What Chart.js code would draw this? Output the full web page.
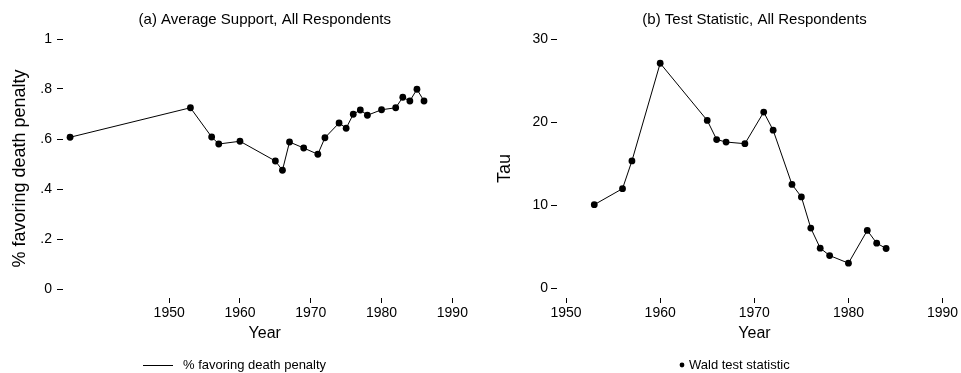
<!DOCTYPE html>
<html>
<head>
<meta charset="utf-8">
<title>Death penalty support</title>
<script src="https://cdn.jsdelivr.net/npm/chart.js@4.4.1/dist/chart.umd.min.js"></script>
<style>
  body { margin: 0; background: #fff; }
  #wrap { position: relative; width: 961px; height: 373px; }
  canvas { position: absolute; top: 0; }
</style>
</head>
<body>
<div id="wrap">
  <canvas id="supportChart" width="480" height="373" style="left:0;width:480px;height:373px"></canvas>
  <canvas id="waldChart" width="481" height="373" style="left:480px;width:481px;height:373px"></canvas>
</div>
<script>
// survey years and share favoring the death penalty
const supportYears = [1936, 1953, 1956, 1957, 1960, 1965, 1966, 1967, 1969, 1971, 1972,
  1974, 1975, 1976, 1977, 1978, 1980, 1982, 1983, 1984, 1985, 1986];
const supportShare = [0.607, 0.725, 0.608, 0.580, 0.591, 0.512, 0.475, 0.588, 0.564, 0.539, 0.605,
  0.664, 0.643, 0.699, 0.716, 0.695, 0.717, 0.725, 0.767, 0.752, 0.799, 0.752];

// Wald test statistic by year
const waldYears = [1953, 1956, 1957, 1960, 1965, 1966, 1967, 1969, 1971, 1972,
  1974, 1975, 1976, 1977, 1978, 1980, 1982, 1983, 1984];
const waldTau = [10.06, 11.99, 15.33, 27.08, 20.2, 17.9, 17.6, 17.4, 21.2, 19.03,
  12.5, 11.0, 7.24, 4.83, 3.94, 3.02, 6.96, 5.43, 4.79];

// axis ticks
const yearTicks = [1950, 1960, 1970, 1980, 1990];
const shareTicks = [0, 0.2, 0.4, 0.6, 0.8, 1];
const shareTickLabels = ["0", ".2", ".4", ".6", ".8", "1"];
const tauTicks = [0, 10, 20, 30];

const FONT = '"Liberation Sans", Arial, Helvetica, sans-serif';
Chart.defaults.font.family = FONT;
Chart.defaults.color = "#000";

// panel title on top, key line under the axis
const panelText = {
  id: "panelText",
  afterDraw(chart, args, opts) {
    const { ctx, chartArea } = chart;
    ctx.save();
    ctx.fillStyle = "#000";
    ctx.strokeStyle = "#000";
    ctx.textBaseline = "middle";
    ctx.font = "15px " + FONT;
    ctx.textAlign = "center";
    ctx.fillText(opts.title, (chartArea.left + chartArea.right) / 2, 20);

    const k = opts.key;
    let textX;
    if (k.kind === "line") {
      ctx.lineWidth = 1;
      ctx.beginPath();
      ctx.moveTo(k.x, k.y + 0.5);
      ctx.lineTo(k.x + 30, k.y + 0.5);
      ctx.stroke();
      textX = k.x + 40;
    } else {
      ctx.beginPath();
      ctx.arc(k.x, k.y, 2.4, 0, Math.PI * 2);
      ctx.fill();
      textX = k.x + 7;
    }
    ctx.font = "13px " + FONT;
    ctx.textAlign = "left";
    ctx.fillText(k.text, textX, k.y);
    ctx.restore();
  }
};

function yearAxis(min, max) {
  return {
    type: "linear",
    min: min,
    max: max,
    afterBuildTicks: s => { s.ticks = yearTicks.map(v => ({ value: v })); },
    afterFit: s => { s.height = 50; },
    border: { display: false },
    grid: { drawOnChartArea: false, tickLength: 5, color: "#000", lineWidth: 1 },
    ticks: { padding: 2, font: { size: 14 }, callback: v => String(v), maxRotation: 0 },
    title: { display: true, text: "Year", font: { size: 16 }, padding: { top: 0, bottom: 5 } }
  };
}

const lineStyle = {
  borderColor: "#000",
  backgroundColor: "#000",
  borderWidth: 1,
  pointRadius: 3.4,
  pointBorderWidth: 0,
  tension: 0
};

new Chart(document.getElementById("supportChart"), {
  type: "line",
  data: {
    datasets: [Object.assign({
      label: "% favoring death penalty",
      data: supportYears.map((y, i) => ({ x: y, y: supportShare[i] }))
    }, lineStyle)]
  },
  options: {
    responsive: false,
    animation: false,
    layout: { padding: { top: 39, right: 13.5, bottom: 25, left: 0 } },
    scales: {
      x: yearAxis(1935, 1992),
      y: {
        min: -0.036,
        max: 1,
        afterBuildTicks: s => { s.ticks = shareTicks.map(v => ({ value: v })); },
        afterFit: s => { s.width = 63; },
        border: { display: false },
        grid: { drawOnChartArea: false, tickLength: 6, color: "#000", lineWidth: 1 },
        ticks: { padding: 5, font: { size: 14 },
          callback: v => shareTickLabels[shareTicks.indexOf(v)] },
        title: { display: true, text: "% favoring death penalty", font: { size: 18 },
          padding: { top: 9, bottom: 0 } }
      }
    },
    plugins: {
      legend: { display: false },
      tooltip: { enabled: false },
      panelText: {
        title: "(a) Average Support, All Respondents",
        key: { kind: "line", x: 143, y: 365, text: "% favoring death penalty" }
      }
    }
  },
  plugins: [panelText]
});

new Chart(document.getElementById("waldChart"), {
  type: "line",
  data: {
    datasets: [Object.assign({
      label: "Wald test statistic",
      data: waldYears.map((y, i) => ({ x: y, y: waldTau[i] }))
    }, lineStyle)]
  },
  options: {
    responsive: false,
    animation: false,
    layout: { padding: { top: 39, right: 9, bottom: 25, left: 0 } },
    scales: {
      x: yearAxis(1949.04, 1991),
      y: {
        min: -1.17,
        max: 30,
        afterBuildTicks: s => { s.ticks = tauTicks.map(v => ({ value: v })); },
        afterFit: s => { s.width = 77; },
        border: { display: false },
        grid: { drawOnChartArea: false, tickLength: 6, color: "#000", lineWidth: 1 },
        ticks: { padding: 3, font: { size: 14 } },
        title: { display: true, text: "Tau", font: { size: 18 },
          padding: { top: 14, bottom: 0 } }
      }
    },
    plugins: {
      legend: { display: false },
      tooltip: { enabled: false },
      panelText: {
        title: "(b) Test Statistic, All Respondents",
        key: { kind: "dot", x: 202, y: 365, text: "Wald test statistic" }
      }
    }
  },
  plugins: [panelText]
});
</script>
</body>
</html>
